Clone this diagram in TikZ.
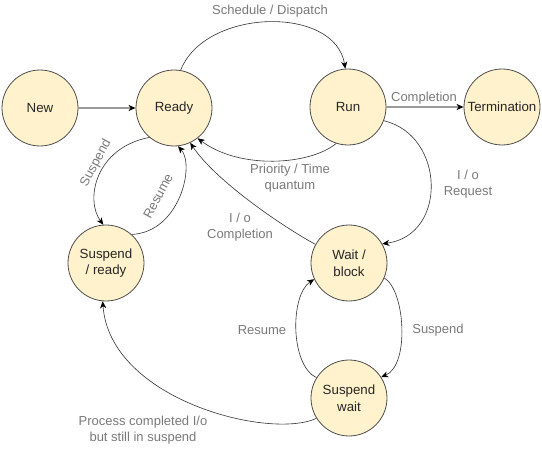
\documentclass[tikz,border=0pt]{standalone}
\usepackage{fontspec}
\setmainfont{Liberation Sans}
\usetikzlibrary{arrows.meta}
\definecolor{nodefill}{HTML}{FFF2CC}
\definecolor{nodeline}{HTML}{4D4D4D}
\definecolor{labelgray}{HTML}{7A7A7A}
\definecolor{straightgray}{HTML}{9A9A9A}
\tikzset{
  state/.style={circle, draw=nodeline, fill=nodefill, line width=0.8pt,
    minimum size=76pt, inner sep=0pt, align=center,
    font=\fontsize{13.3}{16.5}\selectfont, text=black!85},
  lbl/.style={text=labelgray, align=center, inner sep=0pt,
    font=\fontsize{13}{15.5}\selectfont},
  straight/.style={draw=straightgray, line width=1.3pt,
    -{Stealth[length=7pt,width=6pt,inset=2pt,black]}},
  curved/.style={draw=black!80, line width=0.6pt,
    -{Stealth[length=7pt,width=6pt,inset=2pt,black]}},
}
\begin{document}
\begin{tikzpicture}[x=1pt,y=-1pt]
\useasboundingbox (0,0) rectangle (542,460);
\fill[white] (0,0) rectangle (542,460);

\node[state] (new) at (40,108) {New};
\node[state] (ready) at (174,108) {Ready};
\node[state] (run) at (348,107) {Run};
\node[state] (term) at (502,107) {Termination};
\node[state] (sready) at (106,263) {Suspend\\/ ready};
\node[state] (wait) at (349,263) {Wait /\\block};
\node[state] (swait) at (349,398) {Suspend\\wait};

\draw[straight] (new) -- (ready);
\draw[straight] (run) -- (term);

\draw[curved] (ready.80) .. controls (205,8) and (335,5) .. (run.94);
\draw[curved] (run.252) .. controls (310,165) and (240,170) .. (ready.308);
\draw[curved] (run.-21) .. controls (445,135) and (448,235) .. (wait.30);
\draw[curved] (wait.151) .. controls (280,225) and (215,180) .. (ready.295);
\draw[curved] (ready.230) .. controls (95,148) and (85,200) .. (sready.94);
\draw[curved] (sready.48) .. controls (180,232) and (195,165) .. (ready.276);
\draw[curved] (wait.-23) .. controls (405,290) and (410,365) .. (swait.33);
\draw[curved] (swait.148) .. controls (290,365) and (290,295) .. (wait.205);
\draw[curved] (swait.212) .. controls (270,440) and (110,400) .. (sready.265);

\node[lbl] (l1) at (270,11) {Schedule / Dispatch};
\node[lbl] (l2) at (424,98) {Completion};
\node[lbl] (l3) at (290,178) {Priority / Time\\quantum};
\node[lbl] (l4) at (468,184) {I / o\\Request};
\node[lbl] (l5) at (240,227) {I / o\\Completion};
\node[lbl, rotate=62] (l6) at (96,163) {Suspend};
\node[lbl, rotate=62] (l7) at (158,196) {Resume};
\node[lbl] (l8) at (262,330) {Resume};
\node[lbl] (l9) at (438,330) {Suspend};
\node[lbl] (l10) at (143,430) {Process completed I/o\\but still in suspend};
\end{tikzpicture}
\end{document}
